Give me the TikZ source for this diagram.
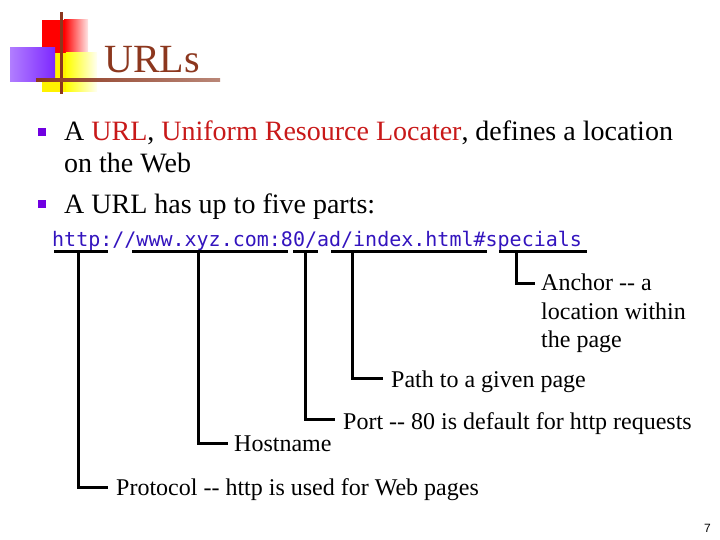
\documentclass[tikz,border=0pt]{standalone}
\usepackage{fontspec}
\setmainfont{Liberation Serif}[Ligatures=TeXOff]
\newfontfamily\urlfont{DejaVu Sans Mono}
\newfontfamily\pagefont{Liberation Sans}
\usepackage{xcolor}
\usepackage{tikz}
\usetikzlibrary{calc}
\definecolor{titlebrown}{RGB}{140,55,30}
\definecolor{termred}{RGB}{200,25,25}
\definecolor{urlblue}{RGB}{51,20,190}
\definecolor{bulletviolet}{RGB}{112,0,225}
\definecolor{logopurple}{RGB}{125,40,255}
\tikzset{
  % Text styles
  titletext/.style={anchor=base west, inner sep=0pt, text=titlebrown, font=\fontsize{40}{44}\selectfont},
  bodytext/.style={anchor=north west, inner sep=0pt, align=left, font=\fontsize{28}{32}\selectfont},
  urltext/.style={anchor=base west, inner sep=0pt, text=urlblue, font=\urlfont\fontsize{20}{24}\selectfont},
  parttext/.style={anchor=base west, inner sep=0pt, font=\fontsize{24}{28.5}\selectfont},
  % Line styles
  uline/.style={line width=3pt, black},
  stem/.style={line width=3pt, black},
  bulletbox/.style={fill=bulletviolet},
}
\begin{document}
\begin{tikzpicture}[x=1pt, y=-1pt]
    \useasboundingbox (0,0) rectangle (720,540);

    % Logo blocks
    \fill[red] (42,20) rectangle (64,53);
    \shade[left color=red, right color=red!10] (64,20) rectangle (88,53);
    \fill[yellow] (42,53) rectangle (66,92);
    \shade[left color=yellow, right color=yellow!5] (66,53) rectangle (97,92);
    \shade[left color=logopurple!60, right color=logopurple] (10,48) rectangle (55,82);
    \fill[titlebrown] (59.5,12) rectangle (62.5,94);
    \shade[left color=titlebrown, right color=titlebrown!60] (36,78.5) rectangle (220,81.5);

    % Title
    \node[titletext] (title) at (104,73) {URLs};

    % Bullets
    \fill[bulletbox] (38,128) rectangle (46,136);
    \fill[bulletbox] (38,200) rectangle (46,208);
    \node[bodytext] (first) at (64,121) {A \textcolor{termred}{URL}, \textcolor{termred}{Uniform Resource Locater}, defines a location\\on the Web};
    \node[bodytext] (second) at (64,194) {A URL has up to five parts:};

    % The URL and its underlines
    \node[urltext] (url) at (52,246) {http://www.xyz.com:80/ad/index.html\#specials};
    \foreach \a/\b in {54/108, 132/288, 293/318, 331/487, 499/587}
        \draw[uline] (\a,251) -- (\b,251);

    \coordinate (protopt) at (78,251);
    \coordinate (hostpt) at (198,251);
    \coordinate (portpt) at (305,251);
    \coordinate (pathpt) at (352,251);
    \coordinate (anchorpt) at (516,251);

    % Part labels
    \node[parttext, anchor=north west, align=left] (anchorlbl) at (541,274) {Anchor -- a\\location within\\the page};
    \node[parttext] (pathlbl) at (391,387) {Path to a given page};
    \node[parttext] (portlbl) at (343,429) {Port -- 80 is default for http requests};
    \node[parttext] (hostlbl) at (234,451) {Hostname};
    \node[parttext] (protolbl) at (116,495) {Protocol -- http is used for Web pages};

    % Stems
    \draw[stem] (anchorpt) |- ($(anchorlbl.north west)+(-6,9)$);
    \draw[stem] (pathpt) |- ($(pathlbl.base west)+(-8,-9)$);
    \draw[stem] (portpt) |- ($(portlbl.base west)+(-8,-10)$);
    \draw[stem] (hostpt) |- ($(hostlbl.base west)+(-6,-8)$);
    \draw[stem] (protopt) |- ($(protolbl.base west)+(-8,-8)$);

    % Page number
    \node[anchor=base west, inner sep=0pt, font=\pagefont\fontsize{12}{14}\selectfont] (pagenum) at (704,532) {7};
\end{tikzpicture}
\end{document}
